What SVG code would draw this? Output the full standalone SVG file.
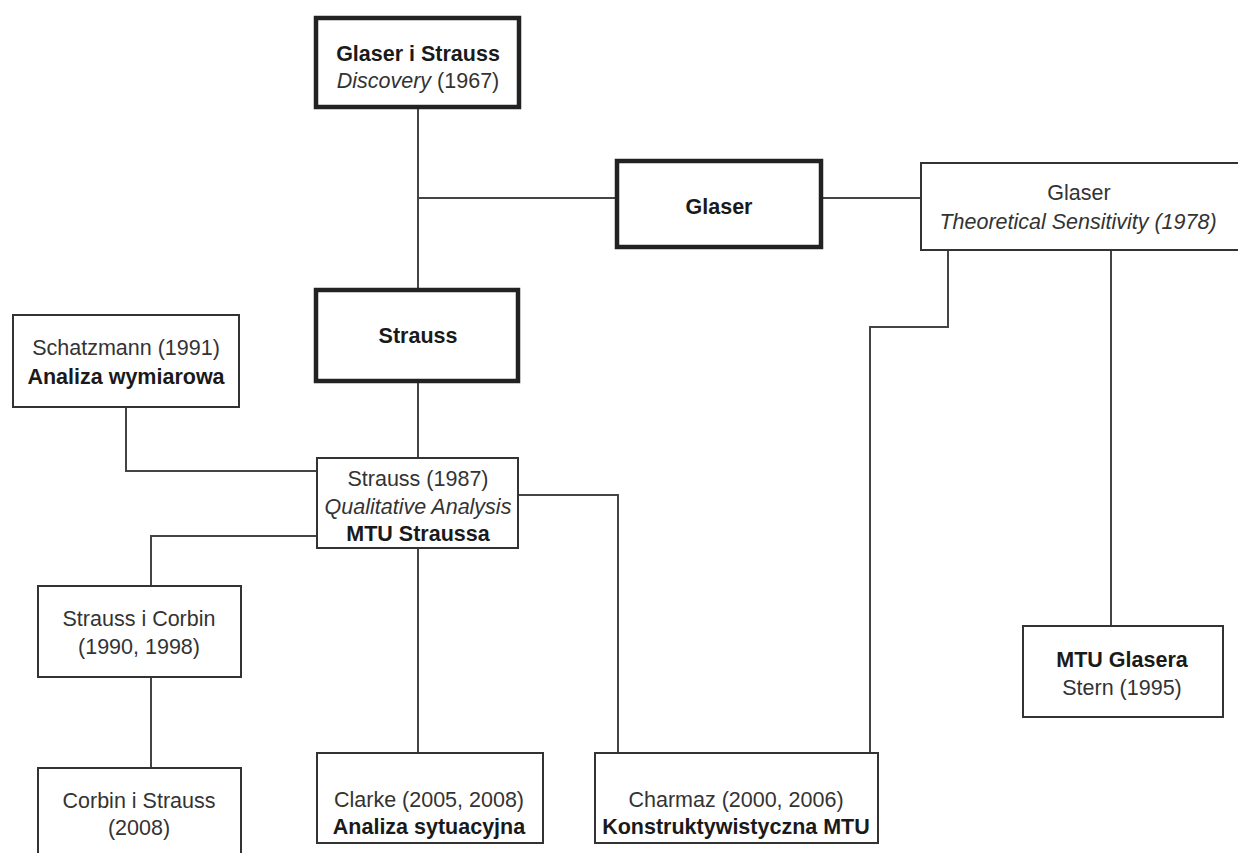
<svg xmlns="http://www.w3.org/2000/svg" width="1238" height="853" viewBox="0 0 1238 853">
<style>
.thin{fill:#fff;stroke:#333;stroke-width:2}
.thick{fill:#fff;stroke:#222;stroke-width:4.5}
.c{fill:none;stroke:#444;stroke-width:2}
text{font-family:"Liberation Sans",Arial,sans-serif;font-size:21.5px;fill:#333;text-anchor:middle}
.b{font-weight:bold;fill:#1a1a1a}
.i{font-style:italic}
</style>
<rect width="1238" height="853" fill="#fff"/>
<g id="connectors">
<path class="c" d="M418 107V290"/>
<path class="c" d="M418 198H616"/>
<path class="c" d="M821 198H921"/>
<path class="c" d="M418 381V458"/>
<path class="c" d="M126 407V471H317"/>
<path class="c" d="M517 495H618V752"/>
<path class="c" d="M317 536H151V586"/>
<path class="c" d="M151 677V768"/>
<path class="c" d="M418 548V752"/>
<path class="c" d="M948 250V327H870V752"/>
<path class="c" d="M1111 250V625"/>
</g>
<g id="n-glaser-strauss">
<rect class="thick" x="316" y="18" width="203" height="89"/>
<text class="b" x="418" y="61">Glaser i Strauss</text>
<text x="418" y="88"><tspan class="i">Discovery</tspan> (1967)</text>
</g>
<g id="n-glaser">
<rect class="thick" x="617" y="161" width="204" height="86"/>
<text class="b" x="719" y="214">Glaser</text>
</g>
<g id="n-glaser-ts">
<rect class="thin" x="921" y="163" width="330" height="87"/>
<text x="1079" y="200">Glaser</text>
<text class="i" x="1078" y="229">Theoretical Sensitivity (1978)</text>
</g>
<g id="n-strauss">
<rect class="thick" x="316" y="290" width="202" height="91"/>
<text class="b" x="418" y="343">Strauss</text>
</g>
<g id="n-schatzmann">
<rect class="thin" x="13" y="315" width="226" height="92"/>
<text x="126" y="355">Schatzmann (1991)</text>
<text class="b" x="126" y="384">Analiza wymiarowa</text>
</g>
<g id="n-strauss-1987">
<rect class="thin" x="317" y="458" width="201" height="90"/>
<text x="418" y="486">Strauss (1987)</text>
<text class="i" x="418" y="514">Qualitative Analysis</text>
<text class="b" x="418" y="541">MTU Straussa</text>
</g>
<g id="n-strauss-corbin">
<rect class="thin" x="38" y="586" width="203" height="91"/>
<text x="139" y="626">Strauss i Corbin</text>
<text x="139" y="654">(1990, 1998)</text>
</g>
<g id="n-corbin-strauss">
<rect class="thin" x="38" y="768" width="203" height="100"/>
<text x="139" y="808">Corbin i Strauss</text>
<text x="139" y="835">(2008)</text>
</g>
<g id="n-clarke">
<rect class="thin" x="317" y="753" width="226" height="90"/>
<text x="429" y="807">Clarke (2005, 2008)</text>
<text class="b" x="429" y="834">Analiza sytuacyjna</text>
</g>
<g id="n-charmaz">
<rect class="thin" x="595" y="753" width="283" height="90"/>
<text x="736" y="807">Charmaz (2000, 2006)</text>
<text class="b" x="736" y="834">Konstruktywistyczna MTU</text>
</g>
<g id="n-mtu-glasera">
<rect class="thin" x="1023" y="626" width="200" height="91"/>
<text class="b" x="1122" y="667">MTU Glasera</text>
<text x="1122" y="695">Stern (1995)</text>
</g>
</svg>
